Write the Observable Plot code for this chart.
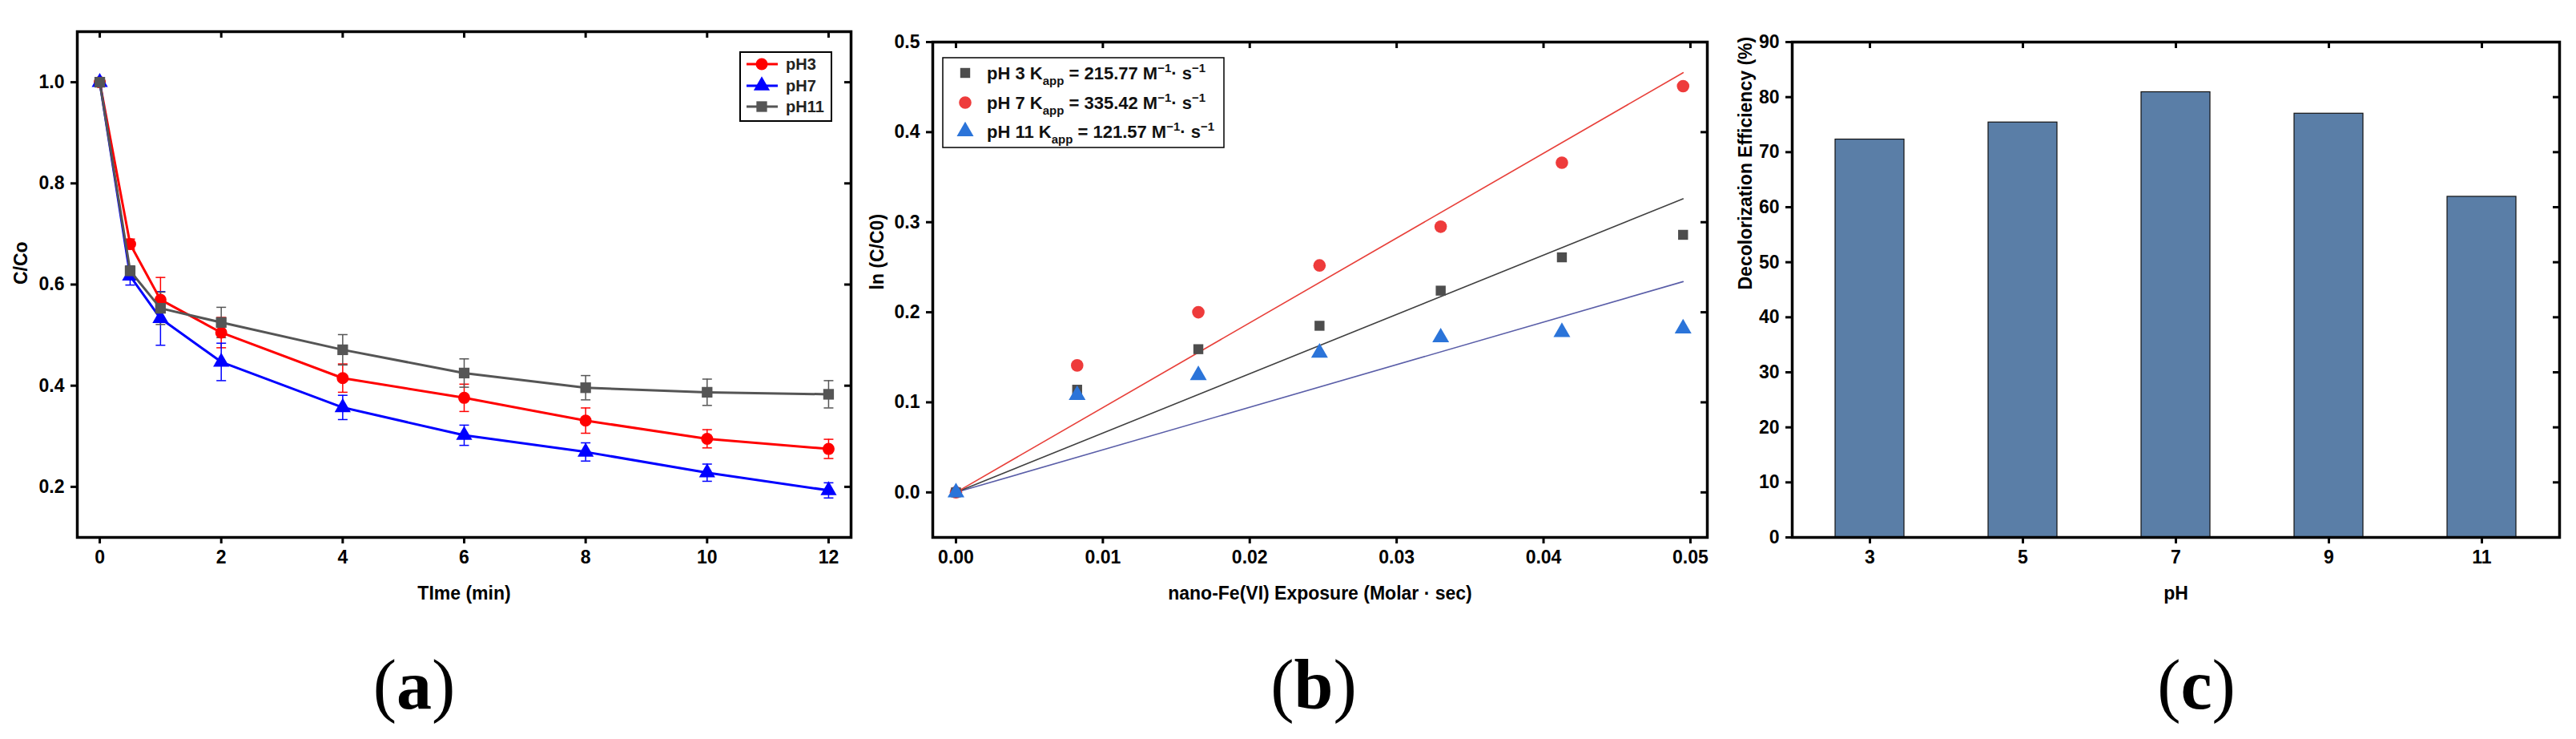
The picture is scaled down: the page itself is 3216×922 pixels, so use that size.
<!DOCTYPE html>
<html><head><meta charset="utf-8">
<script src="https://cdn.jsdelivr.net/npm/d3@7"></script>
<script src="https://cdn.jsdelivr.net/npm/@observablehq/plot@0.6"></script>
<style>
html,body{margin:0;padding:0;background:#fff;}
#wrap{position:relative;width:3216px;height:922px;overflow:hidden;background:#fff;}
.panel{position:absolute;top:0;}
#overlay{position:absolute;left:0;top:0;pointer-events:none;}
</style></head><body>
<div id="wrap">
<div id="pa" class="panel" style="left:0px"></div>
<div id="pb" class="panel" style="left:1080px"></div>
<div id="pc" class="panel" style="left:2160px"></div>
<svg id="overlay" width="3216" height="922"></svg>
</div>
<script>
// ---------- Panel (a): C/Co vs time ----------
const timeMin = [0, 0.5, 1, 2, 4, 6, 8, 10, 12];
const ccPH3   = [1.0, 0.680, 0.570, 0.505, 0.415, 0.376, 0.331, 0.295, 0.275];
const errPH3  = [0, 0.010, 0.044, 0.030, 0.028, 0.027, 0.025, 0.018, 0.019];
const ccPH7   = [1.0, 0.617, 0.533, 0.447, 0.357, 0.302, 0.269, 0.228, 0.193];
const errPH7  = [0, 0.018, 0.053, 0.037, 0.024, 0.020, 0.018, 0.017, 0.015];
const ccPH11  = [1.0, 0.627, 0.553, 0.525, 0.471, 0.425, 0.396, 0.387, 0.383];
const errPH11 = [0, 0.010, 0.032, 0.030, 0.030, 0.028, 0.024, 0.026, 0.027];
const seriesA = ["pH3", "pH7", "pH11"];
const xTicksA = [0, 2, 4, 6, 8, 10, 12];
const yTicksA = [0.2, 0.4, 0.6, 0.8, 1.0];

// ---------- Panel (b): ln(C/C0) vs exposure ----------
const exposure = [0, 0.00825, 0.0165, 0.02475, 0.033, 0.04125, 0.0495];
const lnPH3  = [0, 0.114, 0.159, 0.185, 0.224, 0.261, 0.286];
const lnPH7  = [0, 0.141, 0.200, 0.252, 0.295, 0.366, 0.451];
const lnPH11 = [0, 0.108, 0.130, 0.155, 0.172, 0.178, 0.182];
const fitX     = [0, 0.0495];
const fitPH3   = [0, 0.326];
const fitPH7   = [0, 0.466];
const fitPH11  = [0, 0.234];
const seriesB = ["pH 3", "pH 7", "pH 11"];
const kapp = ["215.77", "335.42", "121.57"];
const xTicksB = [0, 0.01, 0.02, 0.03, 0.04, 0.05];
const yTicksB = [0, 0.1, 0.2, 0.3, 0.4, 0.5];

// ---------- Panel (c): decolorization efficiency ----------
const pHValues = [3, 5, 7, 9, 11];
const efficiency = [72.3, 75.4, 80.9, 77.0, 61.9];
const yTicksC = [0, 10, 20, 30, 40, 50, 60, 70, 80, 90];

// ---------- styles ----------
const FONT = "'Liberation Sans', Arial, Helvetica, sans-serif";
const SERIF = "'Liberation Serif', 'Times New Roman', serif";
const baseStyle = {fontFamily: FONT, fontSize: "23px", fontWeight: "bold", color: "#000", background: "transparent", overflow: "visible"};
const colA = {"pH3": "#ff0000", "pH7": "#0000ff", "pH11": "#555555"};
const symA = {"pH3": "circle", "pH7": "triangle", "pH11": "square"};
const colB = {"pH 3": "#4d4d4d", "pH 7": "#ee3b3b", "pH 11": "#2b74d9"};
const fitColB = {"pH 3": "#404040", "pH 7": "#e8403a", "pH 11": "#5a5ea8"};
const symB = {"pH 3": "square", "pH 7": "circle", "pH 11": "triangle"};
const capSymbol = {draw(ctx) { ctx.moveTo(-6, 0); ctx.lineTo(6, 0); }};

function boxTicks(xt, yt, fw, fh) {
  return [
    Plot.tickX(xt, {x: d => d, insetBottom: fh - 8, strokeWidth: 3}),
    Plot.tickY(yt, {y: d => d, insetLeft: fw - 8, strokeWidth: 3})
  ];
}
function axisLabels(xl, yl, ydx) {
  return [
    Plot.text([xl], {frameAnchor: "bottom", dy: 70, text: d => d, lineAnchor: "middle", fontSize: 23, fontWeight: "bold"}),
    Plot.text([yl], {frameAnchor: "left", dx: ydx, rotate: -90, text: d => d, lineAnchor: "middle", fontSize: 23, fontWeight: "bold"})
  ];
}

// ---------- build panel (a) ----------
const valsA = {"pH3": [ccPH3, errPH3], "pH7": [ccPH7, errPH7], "pH11": [ccPH11, errPH11]};
const rowsA = seriesA.flatMap(s => timeMin.map((t, i) => ({s, t, v: valsA[s][0][i], e: valsA[s][1][i]})));
const errRowsA = rowsA.filter(d => d.e > 0);
const capRowsA = errRowsA.flatMap(d => [{s: d.s, t: d.t, y: d.v + d.e}, {s: d.s, t: d.t, y: d.v - d.e}]);
{
  const W = 1080, H = 770, mL = 96, mR = 18, mT = 39, mB = 100;
  const marks = [];
  for (const s of seriesA) {
    marks.push(Plot.ruleX(errRowsA.filter(d => d.s === s), {x: "t", y1: d => d.v - d.e, y2: d => d.v + d.e, stroke: colA[s], strokeWidth: 1.5}));
    marks.push(Plot.dot(capRowsA.filter(d => d.s === s), {x: "t", y: "y", symbol: capSymbol, stroke: colA[s], fill: "none", strokeWidth: 1.5}));
  }
  for (const s of seriesA) {
    const r = rowsA.filter(d => d.s === s);
    marks.push(Plot.line(r, {x: "t", y: "v", stroke: colA[s], strokeWidth: 3}));
    marks.push(Plot.dot(r, {x: "t", y: "v", symbol: symA[s], fill: colA[s], r: 7.5, stroke: "none"}));
  }
  const chart = Plot.plot({
    width: W, height: H, marginLeft: mL, marginRight: mR, marginTop: mT, marginBottom: mB,
    style: baseStyle,
    x: {domain: [-0.37, 12.37]},
    y: {domain: [0.1, 1.1]},
    marks: [
      ...marks,
      Plot.frame({strokeWidth: 3.5}),
      Plot.axisX(xTicksA, {anchor: "bottom", tickSize: 8, tickPadding: 8, strokeWidth: 3, label: null, tickFormat: d => String(d)}),
      Plot.axisY(yTicksA, {anchor: "left", tickSize: 8, tickPadding: 8, strokeWidth: 3, label: null, tickFormat: d3.format(".1f")}),
      ...boxTicks(xTicksA, yTicksA, W - mL - mR, H - mT - mB),
      ...axisLabels("TIme (min)", "C/Co", -70)
    ]
  });
  document.getElementById("pa").appendChild(chart);
}

// ---------- build panel (b) ----------
const valsB = {"pH 3": lnPH3, "pH 7": lnPH7, "pH 11": lnPH11};
const fitsB = {"pH 3": fitPH3, "pH 7": fitPH7, "pH 11": fitPH11};
const rowsB = seriesB.flatMap(s => exposure.map((x, i) => ({s, x, y: valsB[s][i]})));
const fitRowsB = seriesB.flatMap(s => fitX.map((x, i) => ({s, x, y: fitsB[s][i]})));
{
  const W = 1080, H = 770, mL = 84, mR = 29, mT = 52, mB = 100;
  const marks = [];
  for (const s of ["pH 11", "pH 3", "pH 7"]) {
    marks.push(Plot.line(fitRowsB.filter(d => d.s === s), {x: "x", y: "y", stroke: fitColB[s], strokeWidth: 1.6}));
  }
  for (const s of ["pH 7", "pH 3", "pH 11"]) {
    marks.push(Plot.dot(rowsB.filter(d => d.s === s), {x: "x", y: "y", symbol: symB[s], fill: colB[s], r: s === "pH 3" ? 7 : 7.8, stroke: "none"}));
  }
  const chart = Plot.plot({
    width: W, height: H, marginLeft: mL, marginRight: mR, marginTop: mT, marginBottom: mB,
    style: baseStyle,
    x: {domain: [-0.00158, 0.05115]},
    y: {domain: [-0.05, 0.5]},
    marks: [
      ...marks,
      Plot.frame({strokeWidth: 3.5}),
      Plot.axisX(xTicksB, {anchor: "bottom", tickSize: 8, tickPadding: 8, strokeWidth: 3, label: null, tickFormat: d3.format(".2f")}),
      Plot.axisY(yTicksB, {anchor: "left", tickSize: 8, tickPadding: 8, strokeWidth: 3, label: null, tickFormat: d3.format(".1f")}),
      ...boxTicks(xTicksB, yTicksB, W - mL - mR, H - mT - mB),
      ...axisLabels("nano-Fe(VI) Exposure (Molar · sec)", "ln (C/C0)", -69)
    ]
  });
  document.getElementById("pb").appendChild(chart);
}

// ---------- build panel (c) ----------
const rowsC = pHValues.map((p, i) => ({p, e: efficiency[i]}));
{
  const W = 1056, H = 770, mL = 77, mR = 21, mT = 52, mB = 100;
  const chart = Plot.plot({
    width: W, height: H, marginLeft: mL, marginRight: mR, marginTop: mT, marginBottom: mB,
    style: baseStyle,
    x: {type: "band", domain: pHValues, paddingInner: 0.552, paddingOuter: 0.276},
    y: {domain: [0, 90]},
    marks: [
      Plot.barY(rowsC, {x: "p", y: "e", fill: "#5a7ea7", stroke: "#111", strokeWidth: 1.2}),
      Plot.frame({strokeWidth: 3.5}),
      Plot.axisX({anchor: "bottom", tickSize: 8, tickPadding: 8, strokeWidth: 3, label: null, tickFormat: d => String(d)}),
      Plot.axisY(yTicksC, {anchor: "left", tickSize: 8, tickPadding: 8, strokeWidth: 3, label: null, tickFormat: d => String(d)}),
      ...boxTicks(pHValues, yTicksC, W - mL - mR, H - mT - mB),
      ...axisLabels("pH", "Decolorization Efficiency (%)", -58)
    ]
  });
  document.getElementById("pc").appendChild(chart);
}

// ---------- overlay: legends and panel letters ----------
const ov = d3.select("#overlay");
const symType = {circle: d3.symbolCircle, triangle: d3.symbolTriangle, square: d3.symbolSquare};
function sym(g, type, x, y, r, fill) {
  g.append("path").attr("d", d3.symbol().type(symType[type]).size(Math.PI * r * r)())
    .attr("transform", `translate(${x},${y})`).attr("fill", fill);
}
// legend (a)
{
  const g = ov.append("g");
  g.append("rect").attr("x", 924).attr("y", 65).attr("width", 114).attr("height", 86)
    .attr("fill", "#fff").attr("stroke", "#000").attr("stroke-width", 2);
  const rowsY = [80, 107, 133];
  seriesA.forEach((s, i) => {
    const y = rowsY[i];
    g.append("line").attr("x1", 932).attr("x2", 971).attr("y1", y).attr("y2", y).attr("stroke", colA[s]).attr("stroke-width", 3);
    sym(g, symA[s], 951, y, 7.5, colA[s]);
    g.append("text").attr("x", 981).attr("y", y + 7).attr("font-family", FONT).attr("font-size", 20)
      .attr("font-weight", "bold").attr("fill", "#222").text(s);
  });
}
// legend (b)
{
  const g = ov.append("g");
  g.append("rect").attr("x", 1177).attr("y", 72).attr("width", 351).attr("height", 112)
    .attr("fill", "#fff").attr("stroke", "#000").attr("stroke-width", 1.5);
  const rowsY = [91, 128, 164];
  seriesB.forEach((s, i) => {
    const y = rowsY[i];
    sym(g, symB[s], 1205, y, s === "pH 3" ? 7 : 7.8, colB[s]);
    const t = g.append("text").attr("x", 1232).attr("y", y + 8).attr("font-family", FONT)
      .attr("font-size", 22).attr("font-weight", "bold").attr("fill", "#111");
    t.append("tspan").text(s + " K");
    t.append("tspan").attr("font-size", 15).attr("dy", 7).text("app");
    t.append("tspan").attr("dy", -7).text(" = " + kapp[i] + " M");
    t.append("tspan").attr("font-size", 15).attr("dy", -9).text("−1");
    t.append("tspan").attr("dy", 9).text("· s");
    t.append("tspan").attr("font-size", 15).attr("dy", -9).text("−1");
  });
}
// panel letters
const letters = [["a", 517], ["b", 1640], ["c", 2742]];
for (const [L, x] of letters) {
  const t = ov.append("text").attr("x", x).attr("y", 884).attr("text-anchor", "middle")
    .attr("font-family", SERIF).attr("font-size", 88).attr("fill", "#000");
  t.append("tspan").text("(");
  t.append("tspan").attr("font-weight", "bold").text(L);
  t.append("tspan").text(")");
}
</script>
</body></html>
